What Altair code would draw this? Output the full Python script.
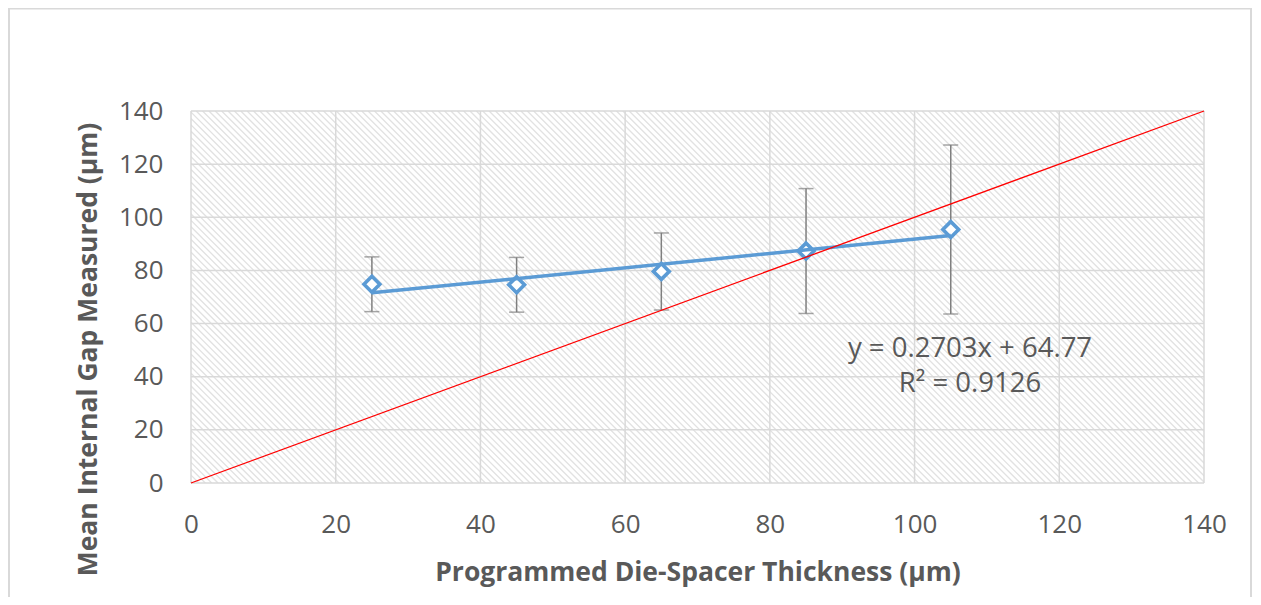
import altair as alt
import pandas as pd

# ---- data ----
x_vals = [25, 45, 65, 85, 105]
y_vals = [74.8, 74.6, 79.6, 87.3, 95.4]
err_vals = [10.3, 10.3, 14.5, 23.5, 31.8]
ticks = [0, 20, 40, 60, 80, 100, 120, 140]
ref_x = [0, 140]
ref_y = [0, 140]
eq_line1 = "y = 0.2703x + 64.77"
eq_line2 = "R² = 0.9126"

# ---- layout / style ----
W, H = 1013, 372
PL, PT = 183, 103
TOTAL_W, TOTAL_H = 1245, 589
FONT = "Open Sans"
TXT = "#595959"
BLUE = "#5B9BD5"
GRID = "#d9d9d9"

df = pd.DataFrame({"x": x_vals, "y": y_vals, "err": err_vals})
df["lo"] = df["y"] - df["err"]
df["hi"] = df["y"] + df["err"]
ticks_df = pd.DataFrame({"t": ticks})
ref_df = pd.DataFrame({"x": ref_x, "y": ref_y})
one = pd.DataFrame({"a": [0]})

xs = alt.Scale(domain=[0, 140], nice=False, zero=False)
ys = alt.Scale(domain=[0, 140], nice=False, zero=False)

xaxis = alt.Axis(values=ticks, grid=False, domain=False, ticks=False, labelFlush=False,
                 labelFont=FONT, labelFontSize=26, labelColor=TXT, labelPadding=28,
                 title="Programmed Die-Spacer Thickness (µm)", titleFont=FONT,
                 titleFontSize=26.5, titleFontWeight="bold", titleColor=TXT,
                 titleBaseline="middle", titleY=89)
yaxis = alt.Axis(values=ticks, grid=False, domain=False, ticks=False, labelFlush=False,
                 labelFont=FONT, labelFontSize=26, labelColor=TXT, labelPadding=28,
                 title="Mean Internal Gap Measured (µm)", titleFont=FONT,
                 titleFontSize=26.5, titleFontWeight="bold", titleColor=TXT,
                 titleAngle=-90, titleBaseline="middle", titleAlign="center",
                 titleX=-103, titleY=238)

# hatch background (diagonal lines, 45 degrees in pixel space)
hatch = alt.Chart(alt.sequence(-60, 141, 0.88, as_="h")).transform_calculate(
    h2=f"datum.h + {140.0 * H / W}"
).mark_rule(color="#e2e2e2", strokeWidth=1.35, clip=True).encode(
    x=alt.X("h:Q", scale=xs, axis=xaxis),
    x2="h2:Q",
    y=alt.value(0),
    y2=alt.value(H),
)

vgrid = alt.Chart(ticks_df).mark_rule(color=GRID, strokeWidth=1.5).encode(
    x=alt.X("t:Q", scale=xs, axis=xaxis)
)
hgrid = alt.Chart(ticks_df).mark_rule(color=GRID, strokeWidth=1.5).encode(
    y=alt.Y("t:Q", scale=ys, axis=yaxis)
)

ebar = alt.Chart(df).mark_rule(color="#7f7f7f", strokeWidth=1.5).encode(
    x=alt.X("x:Q", scale=xs, axis=xaxis),
    y=alt.Y("lo:Q", scale=ys, axis=yaxis),
    y2="hi:Q",
)
cap_lo = alt.Chart(df).mark_tick(color="#7f7f7f", orient="horizontal", size=15, thickness=1.5).encode(
    x=alt.X("x:Q", scale=xs, axis=xaxis),
    y=alt.Y("lo:Q", scale=ys, axis=yaxis),
)
cap_hi = alt.Chart(df).mark_tick(color="#7f7f7f", orient="horizontal", size=15, thickness=1.5).encode(
    x=alt.X("x:Q", scale=xs, axis=xaxis),
    y=alt.Y("hi:Q", scale=ys, axis=yaxis),
)

pts = alt.Chart(df).mark_point(shape="diamond", filled=True, fill="white",
                               stroke=BLUE, strokeWidth=3.6, size=250, opacity=1).encode(
    x=alt.X("x:Q", scale=xs, axis=xaxis),
    y=alt.Y("y:Q", scale=ys, axis=yaxis),
)

trend = alt.Chart(df).transform_regression(
    "x", "y", extent=[25, 105]
).mark_line(color=BLUE, strokeWidth=3.5).encode(
    x=alt.X("x:Q", scale=xs, axis=xaxis),
    y=alt.Y("y:Q", scale=ys, axis=yaxis),
)

ref = alt.Chart(ref_df).mark_line(color="#ff0000", strokeWidth=1.3).encode(
    x=alt.X("x:Q", scale=xs, axis=xaxis),
    y=alt.Y("y:Q", scale=ys, axis=yaxis),
)

t1 = alt.Chart(one).mark_text(text=eq_line1, font=FONT, fontSize=27.5, color=TXT,
                              align="center", baseline="alphabetic").encode(
    x=alt.value(779), y=alt.value(246))
t2 = alt.Chart(one).mark_text(text=eq_line2, font=FONT, fontSize=27.5, color=TXT,
                              align="center", baseline="alphabetic").encode(
    x=alt.value(779), y=alt.value(281))

frame = alt.Chart(one).mark_rect(fill="transparent", stroke=GRID, strokeWidth=2).encode(
    x=alt.value(-182), x2=alt.value(1060),
    y=alt.value(-102.5), y2=alt.value(520),
)

chart = alt.layer(
    frame, hatch, vgrid, hgrid, ebar, cap_lo, cap_hi, pts, trend, ref, t1, t2
).properties(
    width=W, height=H,
    autosize=alt.AutoSizeParams(type="none"),
    padding={"left": PL, "top": PT, "right": TOTAL_W - PL - W, "bottom": TOTAL_H - PT - H},
    background="white",
).configure_view(stroke=None)

chart.save("out.html", embed_options={"renderer": "svg", "actions": False})
